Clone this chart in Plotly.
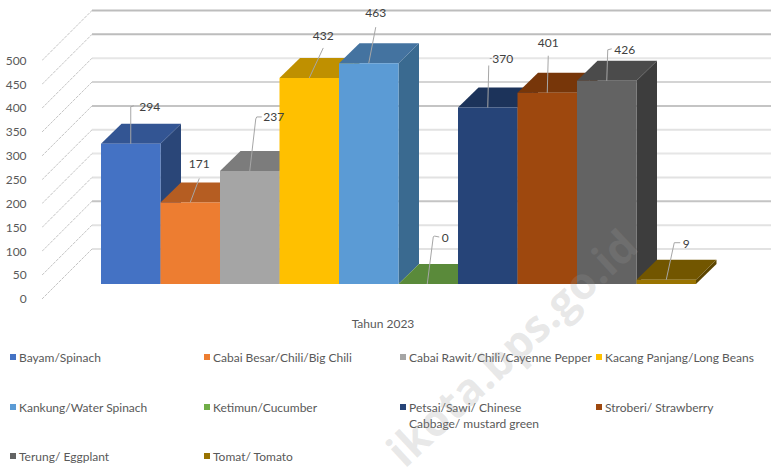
import plotly.graph_objects as go

CATEGORIES = ["Bayam/Spinach", "Cabai Besar/Chili/Big Chili", "Cabai Rawit/Chili/Cayenne Pepper",
              "Kacang Panjang/Long Beans", "Kankung/Water Spinach", "Ketimun/Cucumber",
              "Petsai/Sawi/ Chinese<br>Cabbage/ mustard green", "Stroberi/ Strawberry",
              "Terung/ Eggplant", "Tomat/ Tomato"]
VALUES = [294, 171, 237, 432, 463, 0, 370, 401, 426, 9]
FRONT = ["#4472C4", "#ED7D31", "#A5A5A5", "#FFC000", "#5B9BD5", "#70AD47", "#264478", "#9E480E", "#636363", "#997300"]
TOP = ["#335593", "#B55D22", "#7C7C7C", "#BF9000", "#4473A0", "#5A8A3A", "#1C335A", "#773609", "#4B4B4B", "#725600"]
SIDE = ["#2A4678", "#9A4E1C", "#666666", "#A07A00", "#3A6A90", "#4A7530", "#182B4C", "#612C07", "#3D3D3D", "#5C4500"]
TICKS = [0, 50, 100, 150, 200, 250, 300, 350, 400, 450, 500]
GRID_COLORS = ["#e2e2e2", "#e2e2e2", "#c4c4c4", "#e2e2e2", "#e6e6e6", "#e2e2e2", "#c4c4c4", "#d4d4d4", "#e6e6e6", "#bdbdbd", "#bdbdbd"]
AXIS_TITLE = "Tahun 2023"
WATERMARK = "ikota.bps.go.id"

W, H = 771, 467

# pixel scales and plot area, in window pixels
PX_X, PX_Y = 59.5, 0.477
LEFT, RIGHT, TOP_PX, BOTTOM_PX = 42, 771, 0, 300
PW, PH = RIGHT - LEFT, BOTTOM_PX - TOP_PX
X0 = 101 - LEFT                     # first bar's left edge from the axis, px
FLOOR = 15 / PX_Y                   # bars' front plane sits 15 px up the side wall
BAR_DX, BAR_DY = 20.5 / PX_X, 20 / PX_Y
WALL_DX, WALL_DY = 50 / PX_X, 50 / PX_Y
xrange_ = [-X0 / PX_X, (PW - X0) / PX_X]
yrange_ = [-1 / PX_Y, (299 - TOP_PX) / PX_Y]
LEFT_X = xrange_[0]

# leader line and label offsets from each bar's top centre, px
LEADERS = [[(0, 0), (0, -37), (3, -38)], [(0, 0), (9, -24)], [(0, 0), (6, -52), (7, -54), (12, -54)],
           [(0, 0), (14, -30)], [(0, 0), (7, -36)], [(-1, 0), (5, -47), (6, -48), (11, -47)],
           [(0, 0), (1, -42), None, (2, -49), (4, -49)], [(0, 0), (1, -37)], [(0, 0), (1, -31), (5, -32)],
           [(0, 0), (8, -37), (14, -37)]]
LABEL_AT = [(19, -36), (9, -37), (24, -53), (14, -41), (7, -49), (17, -45), (15, -48), (1, -49), (18, -30), (20, -35)]


def px(x):
    return (x - LEFT) / PW


def py(y):
    return (BOTTOM_PX - y) / PH


fig = go.Figure()

# side wall diagonals and back wall gridlines
for t, c in zip(TICKS, GRID_COLORS):
    fig.add_trace(go.Scatter(x=[LEFT_X + WALL_DX, xrange_[1]], y=[t + WALL_DY] * 2, mode="lines",
                             line=dict(color=c, width=2), hoverinfo="skip", showlegend=False))
    fig.add_trace(go.Scatter(x=[LEFT_X, LEFT_X + WALL_DX], y=[t, t + WALL_DY], mode="lines",
                             line=dict(color="#c4c4c4", width=1, dash="3px,1px"), hoverinfo="skip", showlegend=False))

# depth faces, left to right
for i, v in enumerate(VALUES):
    l, r, b, h = i, i + 1, FLOOR, FLOOR + v
    fig.add_trace(go.Scatter(x=[r, r + BAR_DX, r + BAR_DX, r, r], y=[b, b + BAR_DY, h + BAR_DY, h, b],
                             mode="lines", fill="toself", fillcolor=SIDE[i], line=dict(width=0),
                             hoverinfo="skip", showlegend=False))
    fig.add_trace(go.Scatter(x=[l, l + BAR_DX, r + BAR_DX, r, l], y=[h, h + BAR_DY, h + BAR_DY, h, h],
                             mode="lines", fill="toself", fillcolor=TOP[i], line=dict(width=0),
                             hoverinfo="skip", showlegend=False))

# front faces
for i, v in enumerate(VALUES):
    fig.add_trace(go.Bar(x=[i + 0.5], y=[v], base=FLOOR, width=1, name=CATEGORIES[i].replace("<br>", " "),
                         marker=dict(color=FRONT[i], line=dict(width=0)), xaxis="x2", yaxis="y2", showlegend=False))

# leaders and value labels
for i, v in enumerate(VALUES):
    cx, h = i + 0.5, FLOOR + v
    pts = LEADERS[i]
    fig.add_trace(go.Scatter(x=[None if p is None else cx + p[0] / PX_X for p in pts],
                             y=[None if p is None else h - p[1] / PX_Y for p in pts],
                             mode="lines", line=dict(color="#a6a6a6", width=1), xaxis="x2", yaxis="y2",
                             hoverinfo="skip", showlegend=False))
    fig.add_trace(go.Scatter(x=[cx + LABEL_AT[i][0] / PX_X], y=[h - LABEL_AT[i][1] / PX_Y], mode="text",
                             text=[str(v)], textposition="middle center",
                             textfont=dict(family="Lato", size=12, color="#404040"),
                             xaxis="x2", yaxis="y2", hoverinfo="skip", showlegend=False, cliponaxis=False))

# legend, laid out as in the source
COLS = [10, 204, 400, 596]
ROWS = [357, 407, 456]
shapes, annos = [], []
for i, name in enumerate(CATEGORIES):
    if i < 4:
        cx, cy = COLS[i], ROWS[0]
    elif i < 8:
        cx, cy = COLS[i - 4], ROWS[1]
    else:
        cx, cy = COLS[i - 8], ROWS[2]
    shapes.append(dict(type="rect", xref="paper", yref="paper", line=dict(width=0), fillcolor=FRONT[i],
                       x0=px(cx), x1=px(cx + 6), y0=py(cy + 3), y1=py(cy - 3)))
    annos.append(dict(text=name, xref="paper", yref="paper", x=px(cx + 8), y=py(cy - 8),
                      xanchor="left", yanchor="top", align="left", showarrow=False,
                      font=dict(family="Lato", size=12, color="#595959"), borderpad=0))

annos.append(dict(text=WATERMARK, xref="paper", yref="paper", x=px(511), y=py(347), xanchor="center", yanchor="middle",
                  textangle=-43, showarrow=False,
                  font=dict(family="Open Sans", size=44, weight="bold", color="rgba(150,150,150,0.22)")))

fig.update_layout(
    width=W, height=H, autosize=False, template=None, showlegend=False,
    paper_bgcolor="white", plot_bgcolor="white", barmode="overlay", shapes=shapes, annotations=annos,
    margin=dict(l=LEFT, r=W - RIGHT, t=TOP_PX, b=H - BOTTOM_PX, pad=0),
    xaxis=dict(range=xrange_, showgrid=False, zeroline=False, showline=False, ticks="outside", ticklen=13,
               tickcolor="rgba(0,0,0,0)", tickvals=[(383 - 101) / PX_X], ticktext=[AXIS_TITLE],
               tickfont=dict(family="Lato", size=12, color="#595959"), fixedrange=True),
    yaxis=dict(range=yrange_, showgrid=False, zeroline=False, showline=False, ticks="outside", ticklen=12,
               tickcolor="rgba(0,0,0,0)", tickvals=TICKS, ticktext=[str(t) for t in TICKS],
               tickfont=dict(family="Lato", size=12, color="#595959"), fixedrange=True),
    xaxis2=dict(range=xrange_, overlaying="x", anchor="y2", visible=False, fixedrange=True),
    yaxis2=dict(range=yrange_, overlaying="y", anchor="x2", visible=False, fixedrange=True),
)

fig.write_html("out.html", config=dict(displayModeBar=False),
               post_script="document.body.style.margin='0';document.documentElement.style.overflow='hidden';")
